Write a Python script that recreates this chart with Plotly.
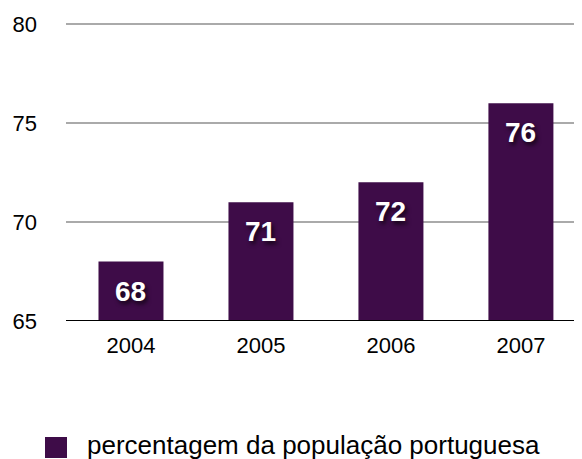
import plotly.graph_objects as go

##### Data #####

years = ["2004", "2005", "2006", "2007"]
values = [68, 71, 72, 76]
series_name = "percentagem da população portuguesa"
y_ticks = [65, 70, 75, 80]

bar_color = "#3e0c48"
font_family = "Liberation Sans, Arial, Helvetica, sans-serif"

##### Figure #####

fig = go.Figure()

fig.add_trace(go.Bar(
    x=years,
    y=values,
    marker=dict(color=bar_color, line=dict(width=0)),
    name=series_name,
    showlegend=False,
    hoverinfo="x+y",
))

# value labels near the top of each bar (category axis -> use index)
for i, v in enumerate(values):
    fig.add_annotation(
        x=i, y=v, xref="x", yref="y",
        text="<b>%d</b>" % v,
        showarrow=False,
        yanchor="top", yshift=-12,
        font=dict(family=font_family, size=28, color="white",
                  shadow="2px 3px 4px rgba(0,0,0,0.7)"),
    )

# legend: square swatch + label under the plot
# (page body has an 8px margin, so the figure is offset by 8px)
# plot area is 303px tall here, bottom edge at window y=321
ph = 303.0
fig.add_shape(
    type="rect", xref="paper", yref="paper",
    x0=-0.0407, x1=0.0019, y0=(321 - 458) / ph, y1=(321 - 437) / ph,
    fillcolor=bar_color, line=dict(width=0),
)
fig.add_annotation(
    x=0.0368, y=(321 - 445) / ph, xref="paper", yref="paper",
    text=series_name, showarrow=False,
    xanchor="left", yanchor="middle",
    font=dict(family=font_family, size=26, color="black"),
)

fig.update_layout(
    width=574,
    height=451,
    margin=dict(l=58, r=0, t=10, b=138),
    paper_bgcolor="white",
    plot_bgcolor="white",
    bargap=0.5,
    font=dict(family=font_family, color="black"),
    xaxis=dict(
        type="category",
        range=[-0.5, 3.47],
        showgrid=False,
        showline=False,
        ticks="",
        tickfont=dict(size=22),
        ticklabelstandoff=9,
    ),
    yaxis=dict(
        range=[65, 80.3],
        tickvals=y_ticks,
        showgrid=True,
        gridcolor="#aaaaaa",
        gridwidth=2,
        zeroline=False,
        showline=False,
        ticks="",
        tickfont=dict(size=22),
        ticklabelstandoff=28,
    ),
)

# black baseline at the bottom of the value axis
fig.add_hline(y=65, line=dict(color="black", width=2), layer="above")

fig.write_html("out.html")
